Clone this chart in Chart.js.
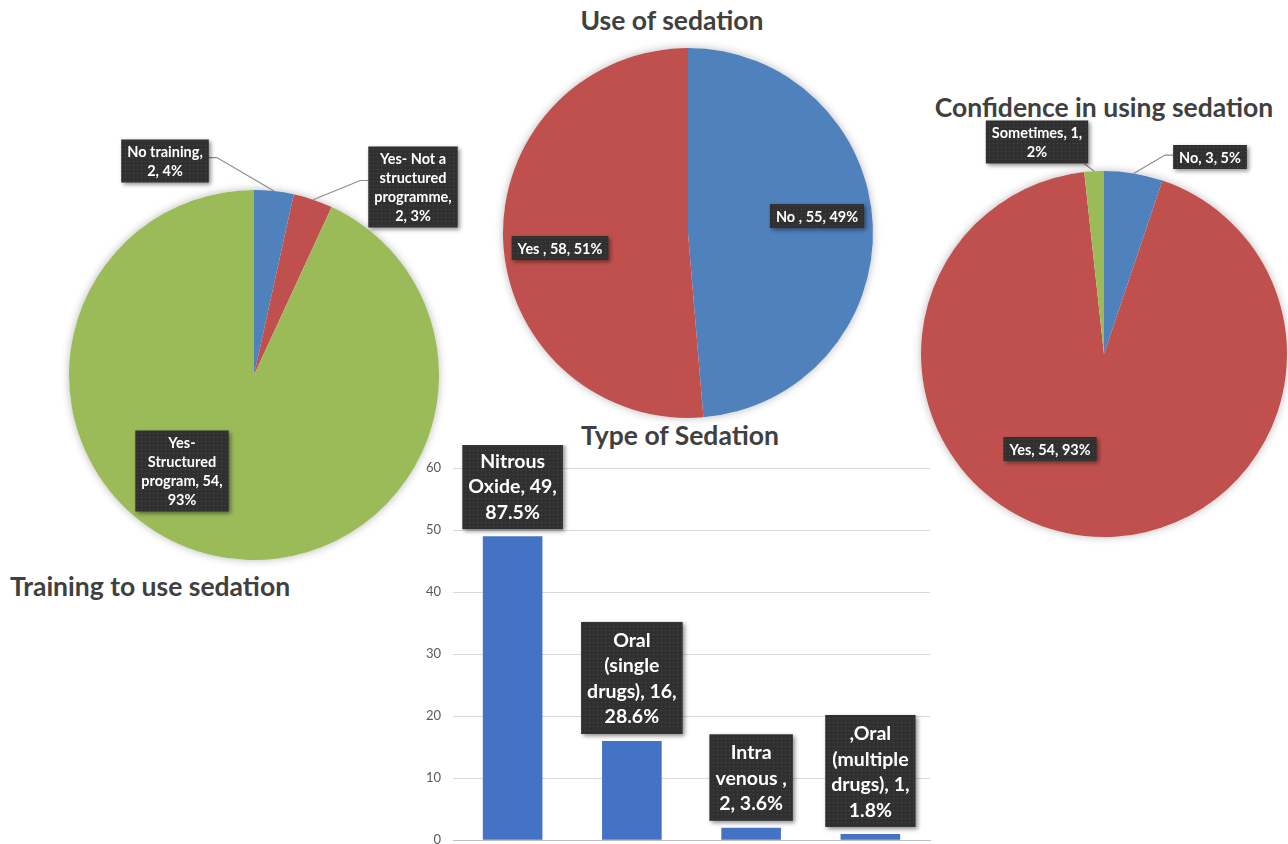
<!DOCTYPE html>
<html>
<head>
<meta charset="utf-8">
<script src="https://cdn.jsdelivr.net/npm/chart.js@4.4.1/dist/chart.umd.min.js"></script>
<style>
  html, body { margin: 0; padding: 0; background: #fff; width: 1288px; height: 844px; overflow: hidden; }
  .wrap { position: absolute; }
  .title {
    position: absolute; white-space: nowrap; color: #404040;
    font-family: Lato, 'Open Sans', sans-serif; font-weight: 700; font-size: 26.5px; line-height: 30px;
  }
  .center { transform: translateX(-50%); }
</style>
</head>
<body>
<div class="title center" style="left:672px; top:5px">Use of sedation</div>
<div class="title center" style="left:1104px; top:92px">Confidence in using sedation</div>
<div class="title center" style="left:680px; top:420px">Type of Sedation</div>
<div class="title" style="left:10px; top:571px">Training to use sedation</div>

<div class="wrap" style="left:0; top:100px"><canvas id="training" width="480" height="500"></canvas></div>
<div class="wrap" style="left:480px; top:40px"><canvas id="use" width="420" height="390"></canvas></div>
<div class="wrap" style="left:900px; top:110px"><canvas id="confidence" width="388" height="440"></canvas></div>
<div class="wrap" style="left:400px; top:445px"><canvas id="types" width="560" height="415"></canvas></div>

<script>
const FONT = "Lato, 'Open Sans', sans-serif";

// Training to use sedation
const trainingNames = ['No training', 'Yes- Not a structured programme', 'Yes- Structured program'];
const trainingCounts = [2, 2, 54];
const trainingPercents = [4, 3, 93];

// Use of sedation
const useNames = ['No ', 'Yes '];
const useCounts = [55, 58];
const usePercents = [49, 51];

// Confidence in using sedation
const confidenceNames = ['No', 'Yes', 'Sometimes'];
const confidenceCounts = [3, 54, 1];
const confidencePercents = [5, 93, 2];

// Type of sedation
const typeNames = ['Nitrous Oxide', 'Oral (single drugs)', 'Intra venous ', ',Oral (multiple drugs)'];
const typeCounts = [49, 16, 2, 1];
const typePercents = [87.5, 28.6, 3.6, 1.8];
const yTicks = [0, 10, 20, 30, 40, 50, 60];

const BLUE = '#4f81bd', RED = '#c0504d', GREEN = '#9bbb59';

function labelText(name, count, pct) {
  return `${name}, ${count}, ${pct}%`;
}

// greedy word wrap, like the spreadsheet data labels
function wrap(ctx, text, maxW) {
  const words = text.split(/\s+/);
  const lines = [];
  let cur = '';
  words.forEach(w => {
    const test = cur ? cur + ' ' + w : w;
    if (cur && ctx.measureText(test).width > maxW) {
      lines.push(cur);
      cur = w;
    } else {
      cur = test;
    }
  });
  if (cur) lines.push(cur);
  return lines;
}

let dots = null;
function dotPattern(ctx) {
  if (dots) return dots;
  const c = document.createElement('canvas');
  c.width = 4; c.height = 4;
  const p = c.getContext('2d');
  p.fillStyle = '#303030';
  p.fillRect(0, 0, 4, 4);
  p.fillStyle = '#4a4a4a';
  p.fillRect(1, 1, 1, 1);
  dots = ctx.createPattern(c, 'repeat');
  return dots;
}

// soft halo behind each pie
const pieShadow = {
  id: 'pieShadow',
  beforeDatasetsDraw(chart) {
    const arc = chart.getDatasetMeta(0).data[0];
    if (!arc) return;
    const ctx = chart.ctx;
    ctx.save();
    ctx.shadowColor = 'rgba(0,0,0,0.28)';
    ctx.shadowBlur = 9;
    ctx.fillStyle = '#fff';
    ctx.beginPath();
    ctx.arc(arc.x, arc.y, arc.outerRadius, 0, Math.PI * 2);
    ctx.fill();
    ctx.restore();
  }
};

// dark call-out boxes for data labels
const labelBoxes = {
  id: 'labelBoxes',
  afterDatasetsDraw(chart, args, opts) {
    const ctx = chart.ctx;
    const els = chart.getDatasetMeta(0).data;
    const isBar = chart.config.type === 'bar';
    ctx.save();
    ctx.font = `bold ${opts.fontSize}px ${FONT}`;
    els.forEach((el, i) => {
      const b = opts.boxes[i];
      const lines = wrap(ctx, opts.texts[i], b.maxW);
      const w = Math.max(...lines.map(l => ctx.measureText(l).width)) + 2 * opts.padX;
      const h = lines.length * opts.lineHeight + 2 * opts.padY;
      let cx, top;
      if (isBar) {
        cx = el.x;
        top = el.y - opts.gap - h;
      } else {
        cx = el.x + b.dx;
        top = el.y + b.dy - h / 2;
      }
      const left = cx - w / 2;

      if (b.leader) {
        const mid = (el.startAngle + el.endAngle) / 2;
        const ax = el.x + Math.cos(mid) * el.outerRadius;
        const ay = el.y + Math.sin(mid) * el.outerRadius;
        ctx.strokeStyle = '#8c8c8c';
        ctx.lineWidth = 1.2;
        ctx.beginPath();
        ctx.moveTo(ax, ay);
        if (ax > left - 12 && ax < left + w + 12 && ay > top + h) {
          ctx.lineTo(Math.min(Math.max(ax, left + 4), left + w - 4), top + h);
        } else {
          const sx = ax > cx ? left + w : left;
          const ey = top + h * 0.42;
          ctx.lineTo(sx + (ax > cx ? 8 : -8), ey);
          ctx.lineTo(sx, ey);
        }
        ctx.stroke();
      }

      ctx.save();
      ctx.shadowColor = 'rgba(0,0,0,0.45)';
      ctx.shadowBlur = 4;
      ctx.shadowOffsetX = 2;
      ctx.shadowOffsetY = 2;
      ctx.fillStyle = dotPattern(ctx);
      ctx.fillRect(left, top, w, h);
      ctx.restore();

      ctx.fillStyle = '#ffffff';
      ctx.textAlign = 'center';
      ctx.textBaseline = 'middle';
      lines.forEach((l, k) => {
        ctx.fillText(l, cx, top + opts.padY + opts.lineHeight * (k + 0.5) + 1);
      });
    });
    ctx.restore();
  }
};

function makePie(id, names, counts, percents, colors, padding, boxes) {
  return new Chart(document.getElementById(id), {
    type: 'pie',
    data: {
      labels: names,
      datasets: [{ data: counts, backgroundColor: colors, borderWidth: 0 }]
    },
    options: {
      responsive: false,
      animation: false,
      events: [],
      layout: { padding },
      plugins: {
        legend: { display: false },
        tooltip: { enabled: false },
        labelBoxes: {
          texts: names.map((n, i) => labelText(n, counts[i], percents[i])),
          boxes,
          fontSize: 14.5,
          lineHeight: 19,
          padX: 6,
          padY: 2.5,
        }
      }
    },
    plugins: [pieShadow, labelBoxes]
  });
}

makePie('training', trainingNames, trainingCounts, trainingPercents, [BLUE, RED, GREEN],
  { left: 69, right: 41, top: 90, bottom: 40 },
  [
    { dx: -89, dy: -214, maxW: 86, leader: true },
    { dx: 159, dy: -188, maxW: 86, leader: true },
    { dx: -72, dy: 96, maxW: 88 },
  ]);

makePie('use', useNames, useCounts, usePercents, [BLUE, RED],
  { left: 23, right: 27, top: 8, bottom: 12 },
  [
    { dx: 129, dy: -17, maxW: 200 },
    { dx: -128, dy: 15, maxW: 200 },
  ]);

makePie('confidence', confidenceNames, confidenceCounts, confidencePercents, [BLUE, RED, GREEN],
  { left: 21, right: 1, top: 61, bottom: 13 },
  [
    { dx: 106, dy: -197, maxW: 200, leader: true },
    { dx: -54, dy: 95, maxW: 200 },
    { dx: -67, dy: -212, maxW: 98, leader: true },
  ]);

new Chart(document.getElementById('types'), {
  type: 'bar',
  data: {
    labels: typeNames,
    datasets: [{
      data: typeCounts,
      backgroundColor: '#4472c4',
      barPercentage: 0.5,
      categoryPercentage: 1,
    }]
  },
  options: {
    responsive: false,
    animation: false,
    events: [],
    layout: { padding: { top: 23, right: 30, bottom: 5, left: 0 } },
    plugins: {
      legend: { display: false },
      tooltip: { enabled: false },
      labelBoxes: {
        texts: typeNames.map((n, i) => labelText(n, typeCounts[i], typePercents[i])),
        boxes: [{ maxW: 96 }, { maxW: 90 }, { maxW: 80 }, { maxW: 92 }],
        fontSize: 19.5,
        lineHeight: 25.5,
        padX: 6,
        padY: 5,
        gap: 7,
      }
    },
    scales: {
      x: {
        grid: { display: false },
        ticks: { display: false },
        border: { color: '#bfbfbf' },
        afterFit(scale) { scale.height = 0; },
      },
      y: {
        min: yTicks[0],
        max: yTicks[yTicks.length - 1],
        ticks: {
          stepSize: yTicks[1] - yTicks[0],
          color: '#595959',
          font: { family: FONT, size: 13 },
          padding: 12,
        },
        grid: { color: '#d9d9d9', drawTicks: false },
        border: { display: false },
        afterFit(scale) { scale.width = 53; },
      }
    }
  },
  plugins: [labelBoxes]
});
</script>
</body>
</html>
